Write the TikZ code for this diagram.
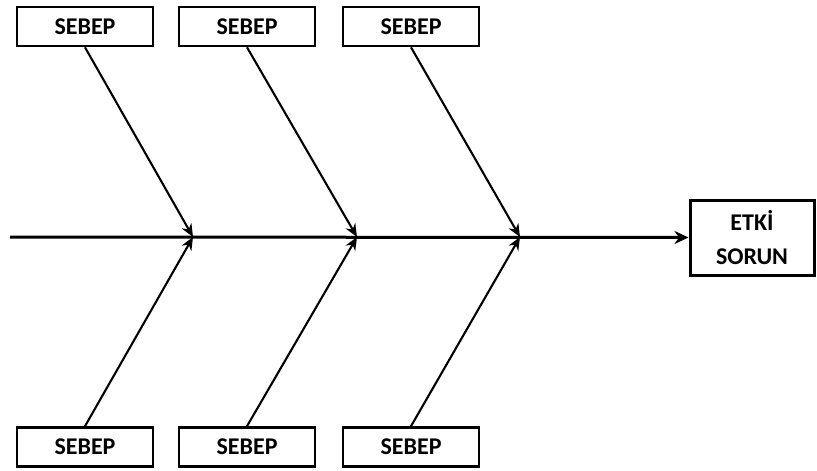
\documentclass[tikz,border=0pt]{standalone}
\usepackage{fontspec}
\setmainfont{Carlito}
\usetikzlibrary{arrows.meta}
\begin{document}
\begin{tikzpicture}[x=1pt,y=-1pt,
  cause/.style={draw, line width=2.6pt, minimum width=136pt, minimum height=39pt,
    inner sep=0pt, font=\fontsize{24}{28}\selectfont\bfseries},
  effect/.style={draw, line width=3pt, minimum width=124pt, minimum height=75pt,
    inner sep=0pt, align=center, font=\fontsize{24}{34}\selectfont\bfseries},
  bone/.style={line width=2.1pt, -{Stealth[length=13pt,width=11pt]}},
  spine/.style={line width=3pt, -{Stealth[length=14pt,width=13pt]}}]
\useasboundingbox (0,0) rectangle (817,471);
% cause boxes, top row
\node[cause] (t1) at (85,26.5) {SEBEP};
\node[cause] (t2) at (247,26.5) {SEBEP};
\node[cause] (t3) at (411,26.5) {SEBEP};
% cause boxes, bottom row
\node[cause] (b1) at (85,447) {SEBEP};
\node[cause] (b2) at (247,447) {SEBEP};
\node[cause] (b3) at (411,447) {SEBEP};
% effect box
\node[effect] (e) at (752,237.5) {ETK\.I\\SORUN};
% spine
\coordinate (s0) at (10,237);
\coordinate (j1) at (193,237);
\coordinate (j2) at (357,237);
\coordinate (j3) at (520,237);
\draw[spine] (s0) -- (e.west);
% bones
\draw[bone] (t1.south) -- (j1);
\draw[bone] (t2.south) -- (j2);
\draw[bone] (t3.south) -- (j3);
\draw[bone] (b1.north) -- (j1);
\draw[bone] (b2.north) -- (j2);
\draw[bone] (b3.north) -- (j3);
\end{tikzpicture}
\end{document}
